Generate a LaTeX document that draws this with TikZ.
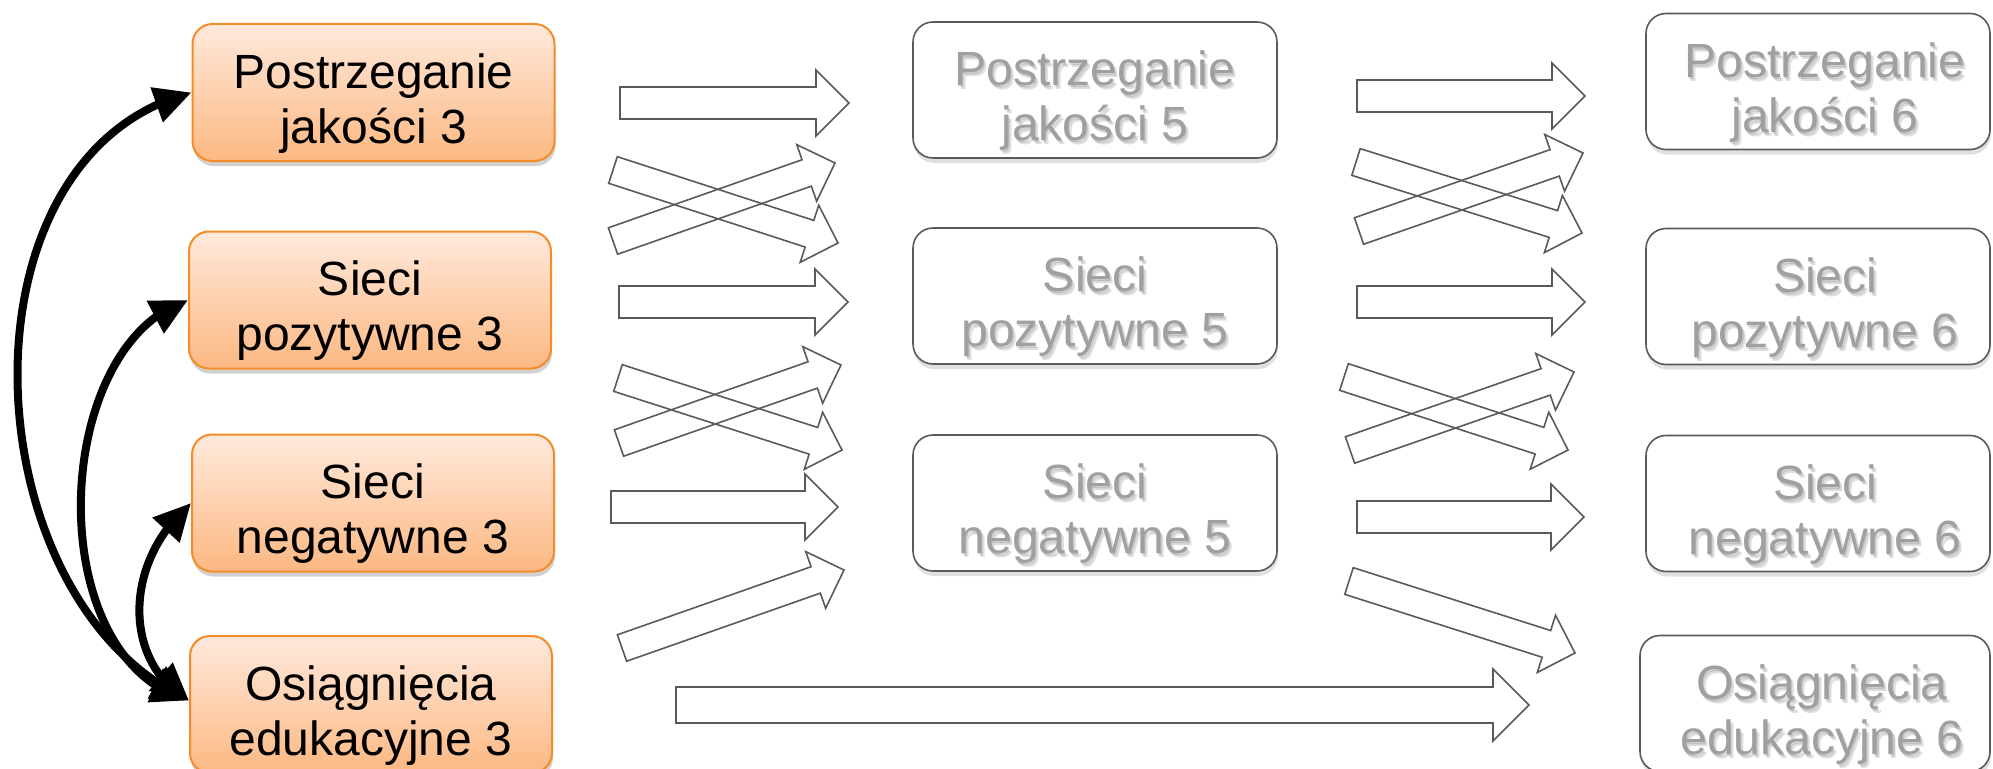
\documentclass[tikz,border=0pt]{standalone}
\usepackage{fontspec}
\setmainfont{Liberation Sans}
\usetikzlibrary{calc,arrows.meta,shadows,bending}

\definecolor{orline}{RGB}{245,140,40}
\definecolor{ortop}{RGB}{255,233,220}
\definecolor{orbot}{RGB}{252,184,130}
\definecolor{grline}{RGB}{90,90,90}
\definecolor{grtext}{RGB}{160,160,160}

\tikzset{
  boxfont/.style={font=\fontsize{48}{55}\selectfont},
  obox/.style={draw=orline, line width=2pt, rounded corners=20pt,
    top color=ortop, bottom color=orbot, minimum width=362pt, minimum height=137pt,
    drop shadow={shadow xshift=1pt, shadow yshift=-5pt, opacity=0.18, fill=black}},
  gbox/.style={draw=grline, line width=1.6pt, rounded corners=20pt, fill=white,
    minimum height=136pt,
    drop shadow={shadow xshift=1pt, shadow yshift=-5pt, opacity=0.12, fill=black}},
  otext/.style={boxfont, align=center, text=black},
  gtext/.style={boxfont, align=center, text=grtext},
  gshade/.style={boxfont, align=center, text=black, opacity=0.13},
  barrow/.style={draw=grline, line width=1.6pt, line join=miter},
  curv/.style={line width=8pt,
    {Triangle[length=37pt,width=35pt]}-{Triangle[length=37pt,width=35pt]}}
}

\newcommand\barr[5]{%
  \coordinate (hb) at ($(#2)!#5!(#1)$);
  \draw[barrow] ($(#1)!#3!90:(#2)$) -- ($(hb)!#3!-90:(#1)$) -- ($(hb)!#4!-90:(#1)$)
    -- (#2) -- ($(hb)!#4!90:(#1)$) -- ($(hb)!#3!90:(#1)$) -- ($(#1)!#3!-90:(#2)$) -- cycle;}

\newcommand\gnode[5]{% name, center, width, text, text x shift
  \node[gbox, minimum width=#3] (#1) at (#2) {};
  \node[gshade] (#1s1) at ($(#1.center)+(#5+1,13)$) {#4};
  \node[gshade] (#1s2) at ($(#1.center)+(#5+3,15)$) {#4};
  \node[gtext] (#1t) at ($(#1.center)+(#5,11)$) {#4};}

\begin{document}
\begin{tikzpicture}[x=1pt, y=-1pt]
\useasboundingbox (0,0) rectangle (1993,768);
\clip (0,0) rectangle (1993,768);

% left orange boxes
\node[obox] (L1) at (373.5,92.5) {};
\node[otext] (L1t) at ($(L1.center)+(0,11)$) {Postrzeganie\\jakości 3};
\node[obox] (L2) at (370,300) {};
\node[otext] (L2t) at ($(L2.center)+(0,11)$) {Sieci\\pozytywne 3};
\node[obox] (L3) at (373,503) {};
\node[otext] (L3t) at ($(L3.center)+(0,11)$) {Sieci\\negatywne 3};
\node[obox] (L4) at (371,704.5) {};
\node[otext] (L4t) at ($(L4.center)+(0,11)$) {Osiągnięcia\\edukacyjne 3};

% middle boxes
\gnode{M1}{1095,90}{364pt}{Postrzeganie\\jakości 5}{0}
\gnode{M2}{1095,296}{364pt}{Sieci\\pozytywne 5}{0}
\gnode{M3}{1095,503}{364pt}{Sieci\\negatywne 5}{0}

% right boxes
\gnode{R1}{1818,81.5}{344pt}{Postrzeganie\\jakości 6}{7}
\gnode{R2}{1818,296.5}{344pt}{Sieci\\pozytywne 6}{7}
\gnode{R3}{1818,503.5}{344pt}{Sieci\\negatywne 6}{7}
\gnode{R4}{1815,703.5}{350pt}{Osiągnięcia\\edukacyjne 6}{7}

% black curved arrows
\draw[curv] ([yshift=4pt]L4.west) .. controls (-30,600) and (-50,155) .. (L1.west);
\draw[curv] ([yshift=4pt]L4.west) .. controls (40,660) and (50,345) .. (L2.west);
\draw[curv] ([yshift=4pt]L4.west) .. controls (125,665) and (120,565) .. (L3.west);

% block arrows, left to middle
\coordinate (a1t) at (620,103); \coordinate (a1h) at (849,103);
\coordinate (a2t) at (613,170); \coordinate (a2h) at (838,243);
\coordinate (a3t) at (613,241); \coordinate (a3h) at (835,163);
\coordinate (a4t) at (619,302); \coordinate (a4h) at (848,302);
\coordinate (a5t) at (618,378); \coordinate (a5h) at (842,450);
\coordinate (a6t) at (619,443); \coordinate (a6h) at (841,365);
\coordinate (a7t) at (611,507); \coordinate (a7h) at (838,507);
\coordinate (a8t) at (622,648); \coordinate (a8h) at (844,570);
\coordinate (a9t) at (676,705); \coordinate (a9h) at (1529,705);
\barr{a1t}{a1h}{16pt}{33pt}{33pt}
\barr{a2t}{a2h}{14pt}{30pt}{30pt}
\barr{a3t}{a3h}{14pt}{30pt}{30pt}
\barr{a4t}{a4h}{16pt}{33pt}{33pt}
\barr{a5t}{a5h}{14pt}{30pt}{30pt}
\barr{a6t}{a6h}{14pt}{30pt}{30pt}
\barr{a7t}{a7h}{16pt}{33pt}{33pt}
\barr{a8t}{a8h}{14pt}{30pt}{30pt}
\barr{a9t}{a9h}{18pt}{36pt}{36pt}

% block arrows, middle to right
\coordinate (b1t) at (1357,96); \coordinate (b1h) at (1585,96);
\coordinate (b2t) at (1356,162); \coordinate (b2h) at (1582,233);
\coordinate (b3t) at (1359,231); \coordinate (b3h) at (1583,153);
\coordinate (b4t) at (1357,302); \coordinate (b4h) at (1585,302);
\coordinate (b5t) at (1344,377); \coordinate (b5h) at (1568,450);
\coordinate (b6t) at (1350,450); \coordinate (b6h) at (1574,372);
\coordinate (b7t) at (1357,517); \coordinate (b7h) at (1584,517);
\coordinate (b8t) at (1349,581); \coordinate (b8h) at (1575,653);
\barr{b1t}{b1h}{16pt}{33pt}{33pt}
\barr{b2t}{b2h}{14pt}{30pt}{30pt}
\barr{b3t}{b3h}{14pt}{30pt}{30pt}
\barr{b4t}{b4h}{16pt}{33pt}{33pt}
\barr{b5t}{b5h}{14pt}{30pt}{30pt}
\barr{b6t}{b6h}{14pt}{30pt}{30pt}
\barr{b7t}{b7h}{16pt}{33pt}{33pt}
\barr{b8t}{b8h}{14pt}{30pt}{30pt}
\end{tikzpicture}
\end{document}
